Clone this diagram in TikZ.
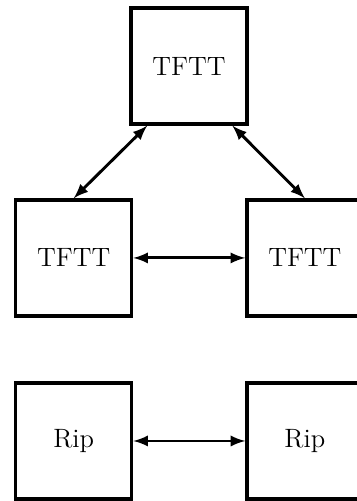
\documentclass[tikz,border=0pt]{standalone}
\usetikzlibrary{arrows}

\begin{document}
\begin{tikzpicture}[box/.style={draw,line width=1.6pt,minimum size=1.95cm,font=\fontsize{12.7}{15}\selectfont},
        link/.style={latex-latex,line width=1.4pt}]

        \useasboundingbox (0,0) rectangle (5.99,-8.43);

        \node[box] (top) at (3.18,-1.11) {TFTT};
        \node[box] (left) at (1.24,-4.34) {TFTT};
        \node[box] (right) at (5.13,-4.34) {TFTT};

        \node[box] (ripl) at (1.24,-7.42) {Rip};
        \node[box] (ripr) at (5.13,-7.42) {Rip};

        \draw[link] (left.north) -- (top.-125);
        \draw[link] (top.-54) -- (right.north);
        \draw[link] (left.east) -- (right.west);
        \draw[link] (ripl.east) -- (ripr.west);

    \end{tikzpicture}
\end{document}
